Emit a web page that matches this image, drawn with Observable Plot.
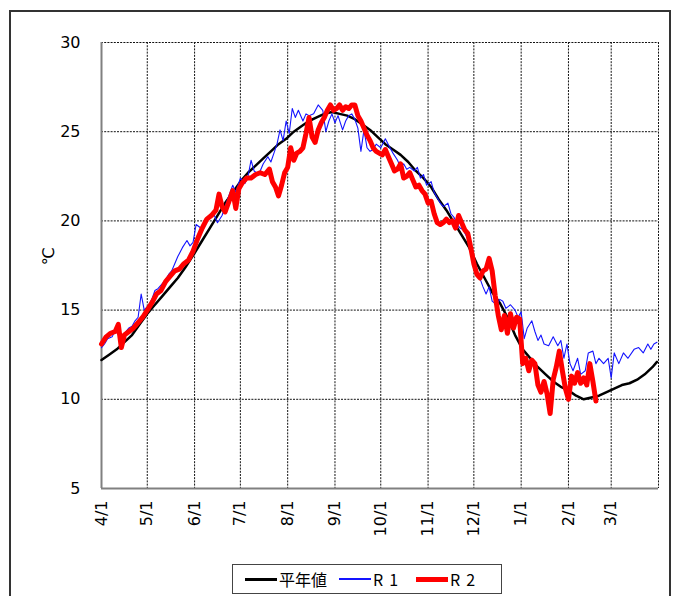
<!DOCTYPE html>
<html>
<head>
<meta charset="utf-8">
<script src="https://cdn.jsdelivr.net/npm/d3@7"></script>
<script src="https://cdn.jsdelivr.net/npm/@observablehq/plot@0.6"></script>
<style>
  html, body { margin: 0; padding: 0; background: #fff; }
  body { width: 676px; height: 596px; position: relative; overflow: hidden; font-family: "DejaVu Sans", sans-serif; }
  #chart { position: absolute; left: 0; top: 0; }
  #border { position: absolute; left: 9px; top: 10px; width: 658px; height: 620px; border: 2px solid #333; pointer-events: none; }
  #legend { position: absolute; left: 232px; top: 564px; width: 268px; height: 27px; border: 1.5px solid #444; display: flex; align-items: center; font-family: "Noto Sans CJK JP", sans-serif; font-size: 16px; color: #000; }
  .sw { display: inline-block; width: 32px; margin-right: 2px; }
  .lab { margin-right: 12px; line-height: 16px; }
</style>
</head>
<body>
<div id="chart"></div>
<div id="border"></div>
<div id="legend"></div>
<script>
// month ticks (day offsets from 4/1)
const monthDays = [0, 30, 61, 91, 122, 153, 183, 214, 244, 275, 306, 334];
const monthLabels = ["4/1", "5/1", "6/1", "7/1", "8/1", "9/1", "10/1", "11/1", "12/1", "1/1", "2/1", "3/1"];
const yTicks = [5, 10, 15, 20, 25, 30];
const seriesNames = ["平年値", "R1", "R2"];

// 平年値 (normal)
const normalDays = [0,5,10,15,20,25,30,35,40,45,50,55,61,66,71,76,81,86,91,96,101,106,111,116,121,126,131,136,141,146,151,156,161,166,171,176,181,186,191,196,201,206,211,216,221,226,231,236,241,246,251,256,261,266,271,276,281,286,291,296,301,306,311,316,321,326,331,336,341,346,351,356,361,364];
const normalTemps = [12.2,12.5,12.8,13.2,13.6,14.2,14.8,15.3,15.8,16.3,16.8,17.4,18.2,18.9,19.6,20.3,21.0,21.6,22.2,22.7,23.1,23.5,23.9,24.3,24.6,25.0,25.3,25.6,25.8,26.0,26.1,26.0,25.9,25.7,25.4,25.1,24.7,24.3,24.0,23.7,23.3,22.8,22.4,21.9,21.2,20.6,19.9,19.2,18.5,17.6,16.8,16.0,15.4,14.6,13.6,12.8,12.3,11.8,11.4,11.0,10.7,10.5,10.2,10.0,10.1,10.2,10.4,10.6,10.8,10.9,11.1,11.4,11.8,12.1];

// R1
const r1Days = [0,2,4,7,9,11,14,16,18,20,22,24,26,28,31,33,35,37,40,42,44,46,48,50,53,56,58,60,62,65,68,71,73,76,79,81,83,86,88,91,94,96,98,100,103,106,109,111,113,115,117,119,121,123,125,127,129,132,134,136,139,142,145,147,149,151,153,155,158,160,162,164,166,168,170,172,174,176,178,180,183,186,189,191,194,196,198,200,202,205,207,209,211,213,216,218,220,222,224,227,229,231,233,235,237,240,242,244,247,250,252,254,256,259,261,263,265,268,271,273,275,277,279,282,284,286,288,290,293,296,299,301,303,305,307,309,312,314,317,319,322,324,326,329,332,334,336,339,342,345,349,352,355,358,360,362,364];
const r1Temps = [12.9,13.1,13.4,13.5,13.9,13.6,13.5,13.8,14.0,14.1,14.4,14.6,15.9,15.0,15.3,15.6,16.1,16.2,16.5,16.7,17.0,17.2,17.6,18.0,18.5,18.9,18.6,18.8,19.8,19.6,19.9,20.3,20.5,19.9,20.3,20.8,21.3,22.0,21.6,22.4,22.1,22.5,23.4,22.8,22.6,23.2,23.6,23.3,23.8,24.3,25.1,24.5,25.6,24.9,26.3,25.8,26.2,25.6,26.0,25.9,26.0,26.5,26.2,25.0,25.6,26.0,25.5,25.9,25.1,25.6,25.9,26.0,25.7,25.2,23.9,25.1,24.1,23.9,24.0,24.3,24.1,24.6,24.1,23.8,23.4,23.0,23.2,22.9,23.0,22.8,23.0,22.4,22.6,22.0,22.2,21.6,21.3,21.0,20.8,21.0,20.4,20.2,19.8,19.6,19.5,19.0,18.2,17.6,17.0,16.3,15.9,16.3,15.5,15.3,15.6,15.5,15.1,15.3,15.0,14.6,14.9,13.4,14.0,14.4,13.8,13.3,13.6,13.1,13.0,13.5,13.0,13.3,12.3,13.1,12.0,11.6,12.3,11.4,11.6,12.6,12.7,12.0,12.3,12.0,12.3,11.2,12.6,12.0,12.6,12.3,12.8,12.9,12.6,13.1,12.8,13.1,13.2];

// R2
const r2Days = [0,3,6,9,11,13,15,18,21,24,27,30,33,36,39,42,45,48,51,54,57,60,63,66,69,72,75,77,79,81,84,86,88,90,92,95,98,101,104,107,110,112,114,116,118,120,122,124,126,128,130,132,134,136,138,140,142,144,146,148,150,152,154,156,158,160,162,164,166,168,170,172,174,176,178,180,182,184,186,188,190,192,194,196,198,200,202,204,206,208,210,212,214,216,218,220,222,224,226,228,230,232,234,236,238,240,242,244,246,248,250,252,254,256,258,260,262,264,266,268,270,272,274,276,278,280,282,284,286,288,290,292,294,296,298,300,302,304,306,308,310,312,314,316,318,320,322,324];
const r2Temps = [13.1,13.5,13.7,13.8,14.2,12.9,13.6,13.8,14.0,14.3,14.6,15.0,15.4,15.9,16.1,16.6,16.9,17.2,17.3,17.6,17.8,18.3,19.0,19.6,20.1,20.3,20.6,21.5,20.8,20.5,21.2,21.7,20.7,21.8,22.1,22.4,22.4,22.6,22.7,22.6,22.9,22.2,21.9,21.4,22.0,22.7,23.0,24.1,23.4,23.8,23.9,24.1,24.9,25.8,24.7,24.4,25.1,25.5,25.8,26.2,26.5,26.2,26.3,26.5,26.2,26.4,26.3,26.5,26.5,25.9,25.6,25.2,24.8,24.5,24.1,23.9,23.8,23.7,24.0,23.6,23.2,22.8,22.9,23.2,22.4,22.5,22.7,22.3,21.9,22.0,21.7,21.5,21.0,21.1,20.4,19.9,19.8,19.9,20.1,19.9,20.0,19.6,20.3,19.9,19.5,19.3,18.5,17.6,17.0,16.8,17.2,17.3,17.9,17.2,15.8,14.7,13.9,14.7,13.7,14.8,14.0,14.6,14.5,12.0,12.3,11.6,12.2,12.0,10.8,10.4,11.0,10.3,9.2,11.1,11.8,12.7,11.6,10.6,10.0,11.3,10.9,11.5,10.9,11.2,10.8,12.0,11.0,9.9];

const toRows = (days, temps) => days.map((d, i) => ({ d, t: temps[i] }));
const normal = toRows(normalDays, normalTemps);
const r1 = toRows(r1Days, r1Temps);
const r2 = toRows(r2Days, r2Temps);

const colors = ["#000000", "#1414ff", "#ff0000"];
const widths = [2.5, 1.1, 5];

const gridStyle = { stroke: "#111", strokeWidth: 1, strokeDasharray: "2,1.2" };

const chart = Plot.plot({
  width: 676,
  height: 560,
  marginLeft: 101,
  marginRight: 18,
  marginTop: 42,
  marginBottom: 72,
  style: { fontFamily: "DejaVu Sans, sans-serif", fontSize: "16px", background: "transparent" },
  x: { domain: [0, 365] },
  y: { domain: [5, 30] },
  marks: [
    Plot.ruleY(yTicks, gridStyle),
    Plot.ruleX([...monthDays, 365], gridStyle),
    Plot.ruleX([0], { stroke: "#808080", strokeWidth: 2 }),
    Plot.ruleY([5], { stroke: "#808080", strokeWidth: 2 }),
    Plot.line(normal, { x: "d", y: "t", stroke: colors[0], strokeWidth: widths[0] }),
    Plot.line(r1, { x: "d", y: "t", stroke: colors[1], strokeWidth: widths[1] }),
    Plot.line(r2, { x: "d", y: "t", stroke: colors[2], strokeWidth: widths[2], strokeLinejoin: "round" }),
    Plot.axisY(yTicks, { tickSize: 0, tickPadding: 21, fontSize: 16, label: null }),
    Plot.axisX(monthDays, {
      tickSize: 0, tickPadding: 12, tickRotate: -90, fontSize: 16, label: null,
      tickFormat: d => monthLabels[monthDays.indexOf(d)]
    }),
    Plot.text(["℃"], { frameAnchor: "left", dx: -53, rotate: -90, fontSize: 16 })
  ]
});
document.getElementById("chart").appendChild(chart);

// legend
const legend = document.getElementById("legend");
legend.style.paddingLeft = "12px";
legend.style.boxSizing = "border-box";
legend.style.width = "270px";
legend.style.height = "30px";
const swatchWidths = [3, 2, 5];
seriesNames.forEach((name, i) => {
  const sw = document.createElement("span");
  sw.className = "sw";
  sw.style.borderTop = `${swatchWidths[i]}px solid ${colors[i]}`;
  sw.style.height = "0";
  legend.appendChild(sw);
  const lab = document.createElement("span");
  lab.className = "lab";
  lab.textContent = name;
  if (i > 0) lab.style.letterSpacing = "6px";
  legend.appendChild(lab);
});
</script>
</body>
</html>
